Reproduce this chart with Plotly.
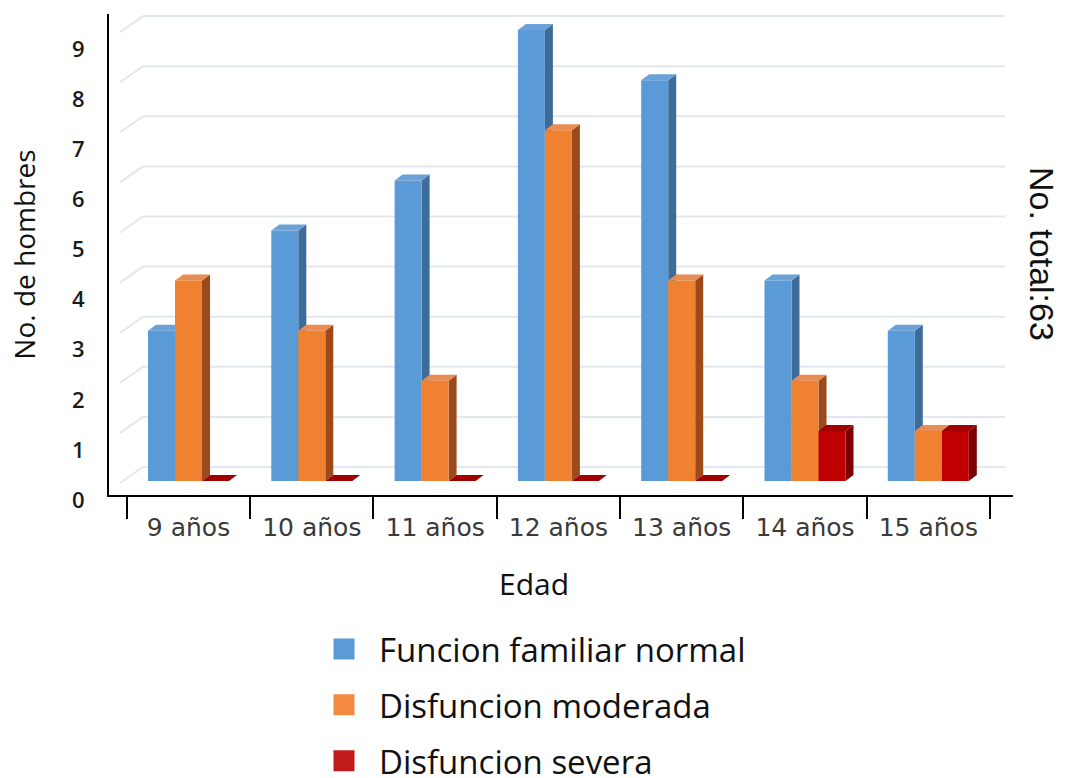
import plotly.graph_objects as go

# ---------------- data ----------------
categories = ["9 años", "10 años", "11 años", "12 años", "13 años", "14 años", "15 años"]
normal = [3, 5, 6, 9, 8, 4, 3]
moderada = [4, 3, 2, 7, 4, 2, 1]
severa = [0, 0, 0, 0, 0, 1, 1]
series_names = ["Funcion familiar normal", "Disfuncion moderada", "Disfuncion severa"]
y_ticks = [0, 1, 2, 3, 4, 5, 6, 7, 8, 9]
total_label = "No. total:63"

# ---------------- styling / layout constants ----------------
W, H = 1065, 778
PL, PR, PT, PB = 109, 1013, 14, 495          # plot area in pixels
PITCH = 123.3                                  # px per category
C0 = 188.5                                     # px of first category centre
YPX = 50.1                                     # px per unit
Y0PX = 481                                     # px of value 0

front_cols = ["#5a9ad6", "#f08131", "#c00000"]
side_cols = ["#3e6c98", "#9c4a1c", "#7c0000"]
top_cols = ["#6aa2d8", "#e98d55", "#a00000"]
legend_cols = ["#5b9bd5", "#f48a3f", "#c21a1a"]

xr = [(PL - C0) / PITCH, (PR - C0) / PITCH]
yr = [-(PB - Y0PX) / YPX, (Y0PX - PT) / YPX]

def dx(px):
    return px / PITCH

def dy(px):
    return px / YPX

def xd(px):
    return (px - C0) / PITCH

BW = dx(27)
offsets = [-1.5 * BW, -0.5 * BW, 0.5 * BW]
DX, DY = dx(8), dy(6)

fig = go.Figure()
values = [normal, moderada, severa]
xs = list(range(len(categories)))

for k, vals in enumerate(values):
    fig.add_trace(go.Bar(
        x=xs, y=vals, width=BW, offset=offsets[k],
        marker=dict(color=front_cols[k], line=dict(width=0)),
        name=series_names[k], showlegend=False, hoverinfo="y",
    ))
    # legend proxy
    fig.add_trace(go.Scatter(
        x=[None], y=[None], mode="markers", name=series_names[k],
        legendgroup=series_names[k],
        marker=dict(symbol="square", size=16, color=legend_cols[k],
                    line=dict(color=legend_cols[k], width=5)),
    ))

shapes = []
# back-wall gridlines + left-wall diagonals
for v in y_ticks:
    shapes.append(dict(type="line", xref="x", yref="y", layer="below",
                       x0=xd(143), x1=xd(1005), y0=v + dy(14), y1=v + dy(14),
                       line=dict(color="#e3e7ef", width=2)))
    shapes.append(dict(type="line", xref="x", yref="y", layer="below",
                       x0=xd(120), x1=xd(143), y0=v - dy(2), y1=v + dy(14),
                       line=dict(color="#e3e7ef", width=2)))

# 3D side and top faces of bars, from the data
for k, vals in enumerate(values):
    for i, v in enumerate(vals):
        xl = i + offsets[k]
        xrr = xl + BW
        side = (f"M{xrr},{0} L{xrr + DX},{DY} L{xrr + DX},{v + DY} L{xrr},{v} Z")
        top = (f"M{xl},{v} L{xl + DX},{v + DY} L{xrr + DX},{v + DY} L{xrr},{v} Z")
        shapes.append(dict(type="path", path=side, xref="x", yref="y", layer="below",
                           fillcolor=side_cols[k], line=dict(width=0)))
        shapes.append(dict(type="path", path=top, xref="x", yref="y", layer="below",
                           fillcolor=top_cols[k], line=dict(width=0)))

pw = PR - PL
ph = PB - PT

fig.update_layout(
    width=W, height=H,
    margin=dict(l=PL, r=W - PR, t=PT, b=H - PB, autoexpand=False),
    paper_bgcolor="white", plot_bgcolor="white",
    barmode="overlay",
    shapes=shapes,
    showlegend=True,
    legend=dict(
        x=(309 - PL) / pw, xanchor="left",
        y=-(621 - PB) / ph, yanchor="top",
        orientation="v",
        font=dict(family="Open Sans", size=33, color="#111111"),
        tracegroupgap=10, itemwidth=60,
        bgcolor="rgba(0,0,0,0)",
    ),
    xaxis=dict(
        range=xr, showgrid=False, zeroline=False,
        showline=True, linecolor="black", linewidth=2,
        tickvals=xs, ticktext=categories, ticks="",
        ticklabelstandoff=9,
        tickfont=dict(family="DejaVu Sans", size=25, color="#3a3a3a"),
        minor=dict(tickvals=[i - 0.5 for i in range(len(categories) + 1)],
                   ticks="outside", ticklen=22, tickwidth=2, tickcolor="black",
                   showgrid=False),
        fixedrange=True,
    ),
    yaxis=dict(
        range=yr, showgrid=False, zeroline=False,
        showline=True, linecolor="black", linewidth=2,
        tickvals=y_ticks, ticks="",
        ticklabelshift=19, ticklabelstandoff=18,
        tickfont=dict(family="Open Sans", size=22, color="#1a1a1a", weight=600),
        title=dict(text="No. de hombres", standoff=28,
                   font=dict(family="Open Sans", size=28, color="#111111")),
        fixedrange=True,
    ),
    annotations=[
        dict(text="Edad", xref="paper", yref="paper",
             x=(534 - PL) / pw, y=-(583 - PB) / ph, xanchor="center", yanchor="middle",
             showarrow=False, font=dict(family="Open Sans", size=30, color="#111111")),
        dict(text=total_label, xref="paper", yref="paper", textangle=90,
             x=(1042 - PL) / pw, y=(PB - 254) / ph, xanchor="center", yanchor="middle",
             showarrow=False, font=dict(family="Liberation Sans", size=34, color="#111111")),
    ],
)

fig.write_html("out.html")
